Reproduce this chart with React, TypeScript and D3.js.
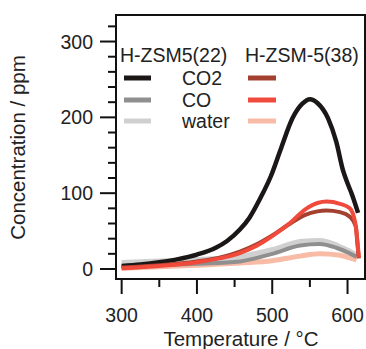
import React from "react";
import * as d3 from "d3";

const W = 366;
const H = 349;

// H-ZSM5(22)
const tCO2_22 = [300, 325, 350, 375, 400, 425, 440, 457, 470, 484, 498, 512, 527, 540, 550, 560, 574, 585, 594, 600, 606, 614];
const vCO2_22 = [4, 6, 9, 13, 19, 28, 37, 52, 68, 93, 122, 160, 199, 218, 224, 219, 199, 168, 130, 113, 98, 74];
const tCO_22 = [300, 350, 400, 457, 500, 537, 563, 585, 600, 612];
const vCO_22 = [3, 5, 7, 10, 20, 31, 33, 28, 22, 16];
const tW_22 = [300, 350, 400, 457, 500, 540, 563, 585, 600, 612];
const vW_22 = [8, 10, 12, 16, 25, 36, 37, 31, 24, 18];

// H-ZSM-5(38)
const tCO2_38 = [300, 350, 400, 430, 457, 480, 501, 524, 543, 560, 572, 590, 603, 611, 613, 615];
const vCO2_38 = [2, 5, 10, 15, 23, 33, 45, 60, 71, 76, 77, 75, 69, 56, 35, 14];
const tCO_38 = [300, 350, 400, 430, 457, 480, 501, 524, 543, 560, 572, 590, 603, 610, 613, 615];
const vCO_38 = [1, 4, 9, 14, 21, 31, 44, 61, 78, 87, 89, 86, 80, 62, 38, 15];
const tW_38 = [300, 350, 400, 457, 500, 537, 563, 590, 605, 612];
const vW_38 = [1, 3, 5, 8, 11, 17, 20, 18, 14, 12];

const xMajor = [300, 400, 500, 600];
const xMinor = [350, 450, 550];
const yMajor = [0, 100, 200, 300];
const yMinor = [20, 40, 60, 80, 120, 140, 160, 180, 220, 240, 260, 280, 320];

const legendRows = ["CO2", "CO", "water"];
const colors22 = ["#1b1717", "#8f8f8f", "#d0d0d0"];
const colors38 = ["#a3402f", "#ef4a3b", "#f7bba6"];

const FONT = "'Liberation Sans', Arial, sans-serif";

export default function App() {
  const x = d3.scaleLinear().domain([292.5, 623.2]).range([116, 365]);
  const y = d3.scaleLinear().domain([-13.2, 335]).range([279, 15]);
  const line = d3
    .line<[number, number]>()
    .x((d) => x(d[0]))
    .y((d) => y(d[1]))
    .curve(d3.curveMonotoneX);
  const zip = (t: number[], v: number[]) => t.map((tt, i) => [tt, v[i]] as [number, number]);

  const series = [
    { d: zip(tW_22, vW_22), c: colors22[2], w: 6 },
    { d: zip(tW_38, vW_38), c: colors38[2], w: 5 },
    { d: zip(tCO_22, vCO_22), c: colors22[1], w: 4 },
    { d: zip(tCO2_22, vCO2_22), c: colors22[0], w: 4.5 },
    { d: zip(tCO2_38, vCO2_38), c: colors38[0], w: 4 },
    { d: zip(tCO_38, vCO_38), c: colors38[1], w: 4 },
  ];

  const [x0, x1] = x.range();
  const [y0, y1] = y.range();
  const legendY = [78, 100, 121];

  return (
    <svg width={W} height={H} style={{ position: "absolute", left: 0, top: 0 }} fontFamily={FONT}>
      <rect x={0} y={0} width={W} height={H} fill="#fff" />
      {series.map((s, i) => (
        <path key={i} d={line(s.d) || ""} fill="none" stroke={s.c} strokeWidth={s.w} strokeLinejoin="round" />
      ))}
      <rect x={x0} y={y1} width={x1 - x0} height={y0 - y1} fill="none" stroke="#111" strokeWidth={2} />
      {yMajor.map((v) => (
        <g key={"ym" + v}>
          <line x1={100} x2={x0} y1={y(v)} y2={y(v)} stroke="#111" strokeWidth={2} />
          <text x={93} y={y(v) + 7} textAnchor="end" fontSize={19.5} fill="#222">{v}</text>
        </g>
      ))}
      {yMinor.map((v) => (
        <line key={"yn" + v} x1={108} x2={x0} y1={y(v)} y2={y(v)} stroke="#111" strokeWidth={2} />
      ))}
      {xMajor.map((v) => (
        <g key={"xm" + v}>
          <line x1={x(v)} x2={x(v)} y1={y0} y2={294} stroke="#111" strokeWidth={2} />
          <text x={x(v)} y={321.7} textAnchor="middle" fontSize={19.5} fill="#222">{v}</text>
        </g>
      ))}
      {xMinor.map((v) => (
        <line key={"xn" + v} x1={x(v)} x2={x(v)} y1={y0} y2={287} stroke="#111" strokeWidth={2} />
      ))}
      <text x={241} y={346} textAnchor="middle" fontSize={20.5} fill="#222">Temperature / °C</text>
      <text transform={`translate(24.5,147.5) rotate(-90)`} textAnchor="middle" fontSize={20.5} fill="#222">
        Concentration / ppm
      </text>
      <text x={120} y={62} fontSize={19.5} fill="#222">H-ZSM5(22)</text>
      <text x={245} y={62} fontSize={19.5} fill="#222">H-ZSM-5(38)</text>
      {legendRows.map((r, i) => (
        <g key={r}>
          <line x1={124} x2={151} y1={legendY[i]} y2={legendY[i]} stroke={colors22[i]} strokeWidth={5} />
          <text x={182} y={legendY[i] + 7} fontSize={19.5} fill="#222">{r}</text>
          <line x1={248} x2={276} y1={legendY[i]} y2={legendY[i]} stroke={colors38[i]} strokeWidth={5} />
        </g>
      ))}
    </svg>
  );
}
